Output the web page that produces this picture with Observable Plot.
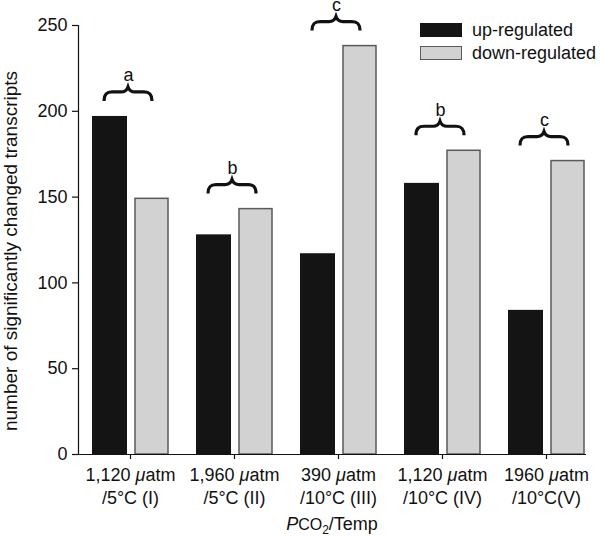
<!DOCTYPE html>
<html>
<head>
<meta charset="utf-8">
<script src="https://cdn.jsdelivr.net/npm/d3@7"></script>
<script src="https://cdn.jsdelivr.net/npm/@observablehq/plot@0.6"></script>
<style>
  html, body { margin: 0; padding: 0; background: white; }
  #wrap { position: relative; width: 600px; height: 537px; font-family: "Liberation Sans", Arial, sans-serif; }
  .legend { position: absolute; left: 420px; font-size: 18px; color: #111; line-height: 1; }
  .legend .row { position: absolute; left: 0; display: flex; align-items: center; white-space: nowrap; }
  .legend .sw { width: 42px; height: 14px; box-sizing: border-box; margin-right: 10px; }
</style>
</head>
<body>
<div id="wrap"></div>
<script>
// ---- data ----
const categories = ["I", "II", "III", "IV", "V"];
const tickLabels = [
  "1,120 μatm\n/5°C (I)",
  "1,960 μatm\n/5°C (II)",
  "390 μatm\n/10°C (III)",
  "1,120 μatm\n/10°C (IV)",
  "1960 μatm\n/10°C(V)"
];
const upRegulated = [197, 128, 117, 158, 84];
const downRegulated = [149, 143, 238, 177, 171];
const groupLetters = ["a", "b", "c", "b", "c"];
const seriesNames = ["up-regulated", "down-regulated"];
const yTicks = [0, 50, 100, 150, 200, 250];
const yLabel = "number of significantly changed transcripts";

// ---- tables built from the arrays ----
const upData = categories.map((c, i) => ({cat: c, value: upRegulated[i]}));
const downData = categories.map((c, i) => ({cat: c, value: downRegulated[i]}));
const groupData = categories.map((c, i) => ({cat: c, top: Math.max(upRegulated[i], downRegulated[i]), letter: groupLetters[i]}));

const BLACK = "#141414", GRAY = "#d2d2d2", EDGE = "#5a5a5a";

function bracePath(cx, yb) {
  const w = 24;
  return `M${cx - w},${yb} C${cx - w},${yb - 7} ${cx - w + 3},${yb - 9} ${cx - w + 8},${yb - 9}` +
    ` L${cx - 7},${yb - 9} C${cx - 3},${yb - 9} ${cx - 1},${yb - 11} ${cx},${yb - 14}` +
    ` C${cx + 1},${yb - 11} ${cx + 3},${yb - 9} ${cx + 7},${yb - 9}` +
    ` L${cx + w - 8},${yb - 9} C${cx + w - 3},${yb - 9} ${cx + w},${yb - 7} ${cx + w},${yb}`;
}

const chart = Plot.plot({
  width: 600,
  height: 537,
  marginTop: 25,
  marginBottom: 83,
  marginLeft: 78,
  marginRight: 14,
  style: {fontFamily: "'Liberation Sans', Arial, sans-serif", fontSize: "18px", color: "#111", background: "white", overflow: "visible"},
  x: {domain: categories, paddingInner: 0.27, paddingOuter: 0.077, align: 0.87, axis: null},
  y: {domain: [0, 250], axis: null},
  marks: [
    Plot.barY(upData, {x: "cat", y: "value", fill: BLACK, insetRight: 41}),
    Plot.barY(downData, {x: "cat", y: "value", fill: GRAY, stroke: EDGE, strokeWidth: 1.5, insetLeft: 43}),
    Plot.ruleY([0], {stroke: "#111", strokeWidth: 1.2}),
    Plot.frame({anchor: "left", stroke: "#111", strokeWidth: 1.2}),
    Plot.axisY({ticks: yTicks, tickSize: 6, tickPadding: 5, label: null, stroke: "#111", strokeWidth: 1.2}),
    Plot.axisX({
      tickSize: 5, tickPadding: 6, label: null, lineHeight: 1.25,
      tickFormat: (d) => tickLabels[categories.indexOf(d)],
      stroke: "#111", strokeWidth: 1.2
    }),
    Plot.dot(groupData, {
      x: "cat", y: "top", r: 0,
      render: (index, scales, values) => {
        const sx = scales.x;
        let bw = 0;
        if (sx && sx.bandwidth != null) bw = typeof sx.bandwidth === "function" ? sx.bandwidth() : sx.bandwidth;
        const g = d3.create("svg:g");
        for (const i of index) {
          g.append("path")
            .attr("d", bracePath(values.x[i] + bw / 2 - 2, values.y[i] - 15))
            .attr("fill", "none")
            .attr("stroke", "#111")
            .attr("stroke-width", 3.2);
        }
        return g.node();
      }
    }),
    Plot.text(groupData, {x: "cat", y: "top", text: "letter", dy: -41, dx: -2, fontSize: 18, fill: "#111"})
  ]
});

// italic mu in the tick labels
chart.querySelectorAll("text, tspan").forEach(el => {
  Array.from(el.childNodes).forEach(node => {
    if (node.nodeType === 3 && node.nodeValue.includes("μ")) {
      const parts = node.nodeValue.split("μ");
      const frag = document.createDocumentFragment();
      parts.forEach((p, k) => {
        if (k > 0) {
          const t = document.createElementNS("http://www.w3.org/2000/svg", "tspan");
          t.setAttribute("font-style", "italic");
          t.textContent = "μ";
          frag.appendChild(t);
        }
        if (p) frag.appendChild(document.createTextNode(p));
      });
      el.replaceChild(frag, node);
    }
  });
});

const svg = d3.select(chart.tagName.toLowerCase() === "svg" ? chart : chart.querySelector("svg"));

// y axis title
svg.append("text")
  .attr("transform", "translate(17,251) rotate(-90)")
  .attr("text-anchor", "middle")
  .attr("font-size", 19)
  .attr("fill", "#111")
  .text(yLabel);

// x axis title: PCO2/Temp
const xt = svg.append("text")
  .attr("x", 332).attr("y", 530)
  .attr("text-anchor", "middle")
  .attr("font-size", 18)
  .attr("fill", "#111");
xt.append("tspan").attr("font-style", "italic").text("P");
xt.append("tspan").attr("font-size", 16).text("CO");
xt.append("tspan").attr("font-size", 12).attr("dy", 4).text("2");
xt.append("tspan").attr("dy", -4).text("/Temp");

const wrap = document.getElementById("wrap");
wrap.appendChild(chart);

// legend
const legend = document.createElement("div");
legend.className = "legend";
legend.style.top = "0px";
const rows = [
  {name: seriesNames[0], fill: BLACK, stroke: BLACK, top: 23},
  {name: seriesNames[1], fill: GRAY, stroke: EDGE, top: 46}
];
rows.forEach(r => {
  const row = document.createElement("div");
  row.className = "row";
  row.style.top = (r.top - 2) + "px";
  const sw = document.createElement("div");
  sw.className = "sw";
  sw.style.background = r.fill;
  sw.style.border = `1.5px solid ${r.stroke}`;
  const label = document.createElement("span");
  label.textContent = r.name;
  row.appendChild(sw);
  row.appendChild(label);
  legend.appendChild(row);
});
wrap.appendChild(legend);
</script>
</body>
</html>
